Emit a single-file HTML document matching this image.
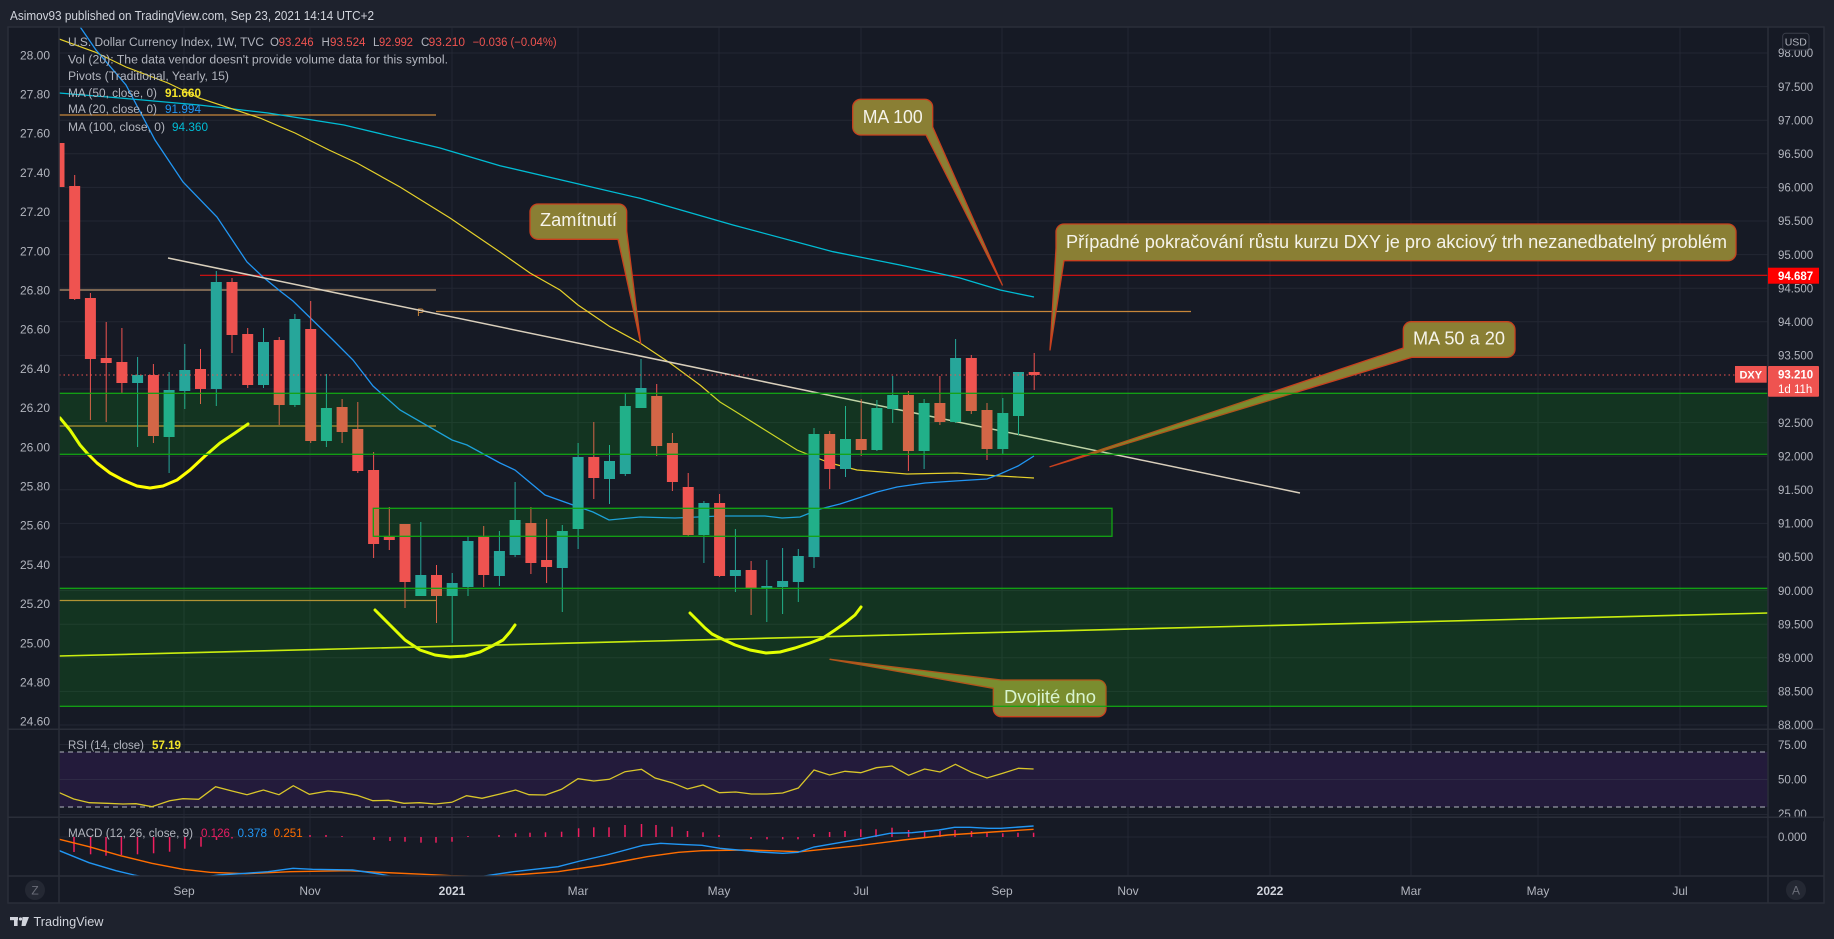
<!DOCTYPE html>
<html><head><meta charset="utf-8"><style>
html,body{margin:0;padding:0;background:#1e222d;overflow:hidden;width:1834px;height:939px}
svg{display:block}
text{font-family:"Liberation Sans","DejaVu Sans",sans-serif}
</style></head><body>
<svg xmlns="http://www.w3.org/2000/svg" width="1834" height="939" viewBox="0 0 1834 939">
<defs>
<clipPath id="main"><rect x="59" y="27" width="1709" height="702"/></clipPath>
<clipPath id="rsi"><rect x="59" y="729" width="1709" height="88"/></clipPath>
<clipPath id="macd"><rect x="59" y="817" width="1709" height="59"/></clipPath>
</defs>
<rect x="0" y="0" width="1834" height="939" fill="#1e222d"/>
<text x="10" y="20" font-size="12.5" fill="#d1d4dc" textLength="364" lengthAdjust="spacingAndGlyphs">Asimov93 published on TradingView.com, Sep 23, 2021 14:14 UTC+2</text>
<rect x="8" y="27" width="1816" height="876" fill="#161a25"/>

<!-- grid -->
<g stroke="#232733" stroke-width="1">
<line x1="59" y1="53" x2="1768" y2="53"/><line x1="59" y1="86.6" x2="1768" y2="86.6"/><line x1="59" y1="120.2" x2="1768" y2="120.2"/><line x1="59" y1="153.8" x2="1768" y2="153.8"/><line x1="59" y1="187.4" x2="1768" y2="187.4"/><line x1="59" y1="221" x2="1768" y2="221"/><line x1="59" y1="254.6" x2="1768" y2="254.6"/><line x1="59" y1="288.2" x2="1768" y2="288.2"/><line x1="59" y1="321.8" x2="1768" y2="321.8"/><line x1="59" y1="355.4" x2="1768" y2="355.4"/><line x1="59" y1="389" x2="1768" y2="389"/><line x1="59" y1="422.6" x2="1768" y2="422.6"/><line x1="59" y1="456.2" x2="1768" y2="456.2"/><line x1="59" y1="489.8" x2="1768" y2="489.8"/><line x1="59" y1="523.4" x2="1768" y2="523.4"/><line x1="59" y1="557" x2="1768" y2="557"/><line x1="59" y1="590.6" x2="1768" y2="590.6"/><line x1="59" y1="624.2" x2="1768" y2="624.2"/><line x1="59" y1="657.8" x2="1768" y2="657.8"/><line x1="59" y1="691.4" x2="1768" y2="691.4"/><line x1="59" y1="725" x2="1768" y2="725"/>
<line x1="59" y1="744.5" x2="1768" y2="744.5"/><line x1="59" y1="779.5" x2="1768" y2="779.5"/><line x1="59" y1="814.5" x2="1768" y2="814.5"/><line x1="59" y1="837" x2="1768" y2="837"/>
<line x1="184" y1="27" x2="184" y2="876"/><line x1="310" y1="27" x2="310" y2="876"/><line x1="452" y1="27" x2="452" y2="876"/><line x1="578" y1="27" x2="578" y2="876"/><line x1="719" y1="27" x2="719" y2="876"/><line x1="861" y1="27" x2="861" y2="876"/><line x1="1002" y1="27" x2="1002" y2="876"/><line x1="1128" y1="27" x2="1128" y2="876"/><line x1="1270" y1="27" x2="1270" y2="876"/><line x1="1411" y1="27" x2="1411" y2="876"/><line x1="1538" y1="27" x2="1538" y2="876"/><line x1="1680" y1="27" x2="1680" y2="876"/>
</g>

<g clip-path="url(#main)">
<!-- pivot lines -->
<g stroke-width="1.2" fill="none">
<line x1="59" y1="115" x2="436" y2="115" stroke="#c8863a"/>
<line x1="59" y1="290" x2="436" y2="290" stroke="#b8946e"/>
<line x1="59" y1="426" x2="436" y2="426" stroke="#c8863a"/>
<line x1="59" y1="600.5" x2="436" y2="600.5" stroke="#c8863a"/>
<line x1="436" y1="311.5" x2="1191" y2="311.5" stroke="#c8863a"/>
<line x1="200" y1="275.3" x2="1768" y2="275.3" stroke="#e01010"/>
</g>
<text x="417" y="316" font-size="11" fill="#c8863a">P</text>

<!-- MAs -->
<polyline fill="none" stroke="#00bcd4" stroke-width="1.3" points="59,93 120,98 199,105 268,113 344,125 440,148 500,165.7 570,182 640,198.3 733,225 833,251.7 900,265 960,278 1000,290 1034,297"/>
<polyline fill="none" stroke="#e6d12a" stroke-width="1.2" points="59,39 95,52 126,67 168,83 199,98 260,118 295,133 329,150 357,163 400,187 450,218 500,252 530,273 560,290 578,305 610,326.7 640,343 670,363 700,385 720,402 733,410 765,430 797,450 830,463 857,470 907,474 957,473 1000,476 1034,478"/>
<polyline fill="none" stroke="#2196f3" stroke-width="1.3" points="72,15 96,50 126,85 155,140 183,182 217,217 247,262 263,277 280,291 293,301 333,340 353,360 373,386 400,410 452,440 467,445 500,463 515,470 545,495 573,505 593,512 609,520 640,517 675,518 720,516 765,516 782,518 800,517 820,509 840,504 877,492 897,487 925,483 955,481 987,479 1000,474 1018,466 1034,456"/>
<!-- trendline -->
<line x1="168" y1="258" x2="1300" y2="493" stroke="#d9cfbc" stroke-width="1.5"/>

<!-- candles red -->
<g fill="#ef5350" stroke="#ef5350">
<g stroke-width="1">
<line x1="59" y1="140" x2="59" y2="187"/><line x1="74.7" y1="175" x2="74.7" y2="300"/><line x1="90.4" y1="293" x2="90.4" y2="420"/><line x1="106.2" y1="322" x2="106.2" y2="422"/><line x1="121.9" y1="328" x2="121.9" y2="393"/><line x1="153.4" y1="364" x2="153.4" y2="443"/><line x1="200.5" y1="349" x2="200.5" y2="404"/><line x1="232" y1="278" x2="232" y2="353"/><line x1="247.7" y1="328" x2="247.7" y2="388"/><line x1="279.2" y1="337" x2="279.2" y2="425"/><line x1="310.7" y1="301" x2="310.7" y2="443"/><line x1="342.1" y1="399" x2="342.1" y2="443"/><line x1="357.8" y1="402" x2="357.8" y2="473"/><line x1="373.6" y1="452" x2="373.6" y2="558"/><line x1="389.3" y1="507" x2="389.3" y2="550"/><line x1="405" y1="524" x2="405" y2="608"/><line x1="436.5" y1="565" x2="436.5" y2="623"/><line x1="483.7" y1="526" x2="483.7" y2="587"/><line x1="530.9" y1="507" x2="530.9" y2="574"/><line x1="546.6" y1="519" x2="546.6" y2="583"/><line x1="593.8" y1="422" x2="593.8" y2="499"/><line x1="656.7" y1="384" x2="656.7" y2="456"/><line x1="672.4" y1="433" x2="672.4" y2="491"/><line x1="688.2" y1="473" x2="688.2" y2="537"/><line x1="719.6" y1="494" x2="719.6" y2="577"/><line x1="751.1" y1="561" x2="751.1" y2="615"/><line x1="829.7" y1="431" x2="829.7" y2="489"/><line x1="861.2" y1="399" x2="861.2" y2="456"/><line x1="908.4" y1="391" x2="908.4" y2="471"/><line x1="939.9" y1="376" x2="939.9" y2="425"/><line x1="971.3" y1="355" x2="971.3" y2="414"/><line x1="987" y1="403" x2="987" y2="460"/><line x1="1034.2" y1="353" x2="1034.2" y2="390"/>
</g>
<g stroke="none">
<rect x="53.5" y="143" width="11" height="44"/><rect x="69.2" y="186" width="11" height="113"/><rect x="84.9" y="298" width="11" height="61"/><rect x="100.7" y="358" width="11" height="5"/><rect x="116.4" y="362" width="11" height="21"/><rect x="147.9" y="375" width="11" height="61"/><rect x="195" y="369" width="11" height="20"/><rect x="226.5" y="282" width="11" height="53"/><rect x="242.2" y="334" width="11" height="51"/><rect x="273.7" y="340" width="11" height="65"/><rect x="305.2" y="329" width="11" height="112"/><rect x="336.6" y="407" width="11" height="25"/><rect x="352.3" y="429" width="11" height="42"/><rect x="368.1" y="470" width="11" height="74"/><rect x="383.8" y="536" width="11" height="4"/><rect x="399.5" y="524" width="11" height="58"/><rect x="431" y="575" width="11" height="21"/><rect x="478.2" y="537" width="11" height="38"/><rect x="525.4" y="523" width="11" height="40"/><rect x="541.1" y="560" width="11" height="7"/><rect x="588.3" y="457" width="11" height="21"/><rect x="651.2" y="396" width="11" height="50"/><rect x="666.9" y="443" width="11" height="39"/><rect x="682.7" y="487" width="11" height="48"/><rect x="714.1" y="503" width="11" height="73"/><rect x="745.6" y="570" width="11" height="18"/><rect x="824.2" y="434" width="11" height="35"/><rect x="855.7" y="439" width="11" height="11"/><rect x="902.9" y="395" width="11" height="56"/><rect x="934.4" y="403" width="11" height="19"/><rect x="965.8" y="358" width="11" height="53"/><rect x="981.5" y="410" width="11" height="39"/><rect x="1028.7" y="372" width="11" height="3"/>
</g></g>
<!-- candles green -->
<g fill="#26a69a" stroke="#26a69a">
<g stroke-width="1">
<line x1="137.6" y1="357" x2="137.6" y2="447"/><line x1="169.1" y1="372" x2="169.1" y2="473"/><line x1="184.8" y1="344" x2="184.8" y2="409"/><line x1="216.3" y1="271" x2="216.3" y2="406"/><line x1="263.5" y1="328" x2="263.5" y2="388"/><line x1="294.9" y1="314" x2="294.9" y2="407"/><line x1="326.4" y1="374" x2="326.4" y2="447"/><line x1="420.8" y1="522" x2="420.8" y2="596"/><line x1="452.2" y1="573" x2="452.2" y2="643"/><line x1="468" y1="536" x2="468" y2="596"/><line x1="499.4" y1="531" x2="499.4" y2="586"/><line x1="515.1" y1="482" x2="515.1" y2="557"/><line x1="562.3" y1="525" x2="562.3" y2="612"/><line x1="578.1" y1="443" x2="578.1" y2="549"/><line x1="609.5" y1="445" x2="609.5" y2="504"/><line x1="625.3" y1="394" x2="625.3" y2="476"/><line x1="641" y1="359" x2="641" y2="408"/><line x1="703.9" y1="501" x2="703.9" y2="563"/><line x1="735.4" y1="529" x2="735.4" y2="592"/><line x1="766.8" y1="560" x2="766.8" y2="622"/><line x1="782.6" y1="548" x2="782.6" y2="614"/><line x1="798.3" y1="549" x2="798.3" y2="602"/><line x1="814" y1="428" x2="814" y2="568"/><line x1="845.5" y1="406" x2="845.5" y2="477"/><line x1="876.9" y1="400" x2="876.9" y2="451"/><line x1="892.7" y1="376" x2="892.7" y2="423"/><line x1="924.1" y1="399" x2="924.1" y2="469"/><line x1="955.6" y1="339" x2="955.6" y2="423"/><line x1="1002.8" y1="398" x2="1002.8" y2="454"/><line x1="1018.5" y1="372" x2="1018.5" y2="435"/>
</g>
<g stroke="none">
<rect x="132.1" y="375" width="11" height="8"/><rect x="163.6" y="390" width="11" height="47"/><rect x="179.3" y="370" width="11" height="21"/><rect x="210.8" y="282" width="11" height="107"/><rect x="258" y="342" width="11" height="43"/><rect x="289.4" y="319" width="11" height="86"/><rect x="320.9" y="408" width="11" height="33"/><rect x="415.3" y="575" width="11" height="21"/><rect x="446.7" y="583" width="11" height="13"/><rect x="462.5" y="541" width="11" height="46"/><rect x="493.9" y="551" width="11" height="25"/><rect x="509.6" y="520" width="11" height="35"/><rect x="556.8" y="531" width="11" height="37"/><rect x="572.6" y="457" width="11" height="72"/><rect x="604" y="461" width="11" height="18"/><rect x="619.8" y="406" width="11" height="68"/><rect x="635.5" y="388" width="11" height="20"/><rect x="698.4" y="503" width="11" height="32"/><rect x="729.9" y="570" width="11" height="6"/><rect x="761.3" y="586" width="11" height="3"/><rect x="777.1" y="581" width="11" height="6"/><rect x="792.8" y="556" width="11" height="26"/><rect x="808.5" y="434" width="11" height="123"/><rect x="840" y="439" width="11" height="30"/><rect x="871.4" y="408" width="11" height="42"/><rect x="887.2" y="395" width="11" height="14"/><rect x="918.6" y="403" width="11" height="48"/><rect x="950.1" y="358" width="11" height="64"/><rect x="997.3" y="413" width="11" height="36"/><rect x="1013" y="372" width="11" height="44"/>
</g></g>

<!-- price line -->
<line x1="59" y1="375" x2="1735" y2="375" stroke="#ef5350" stroke-width="1" stroke-dasharray="1.5,3"/>

<!-- hand drawn yellow -->
<g fill="none" stroke="#ffff00" stroke-width="3" stroke-linecap="round" stroke-linejoin="round">
<polyline points="60,418 70,430 80,445 87,453 97,463 110,473 123,480 137,486 150,488 163,486 177,480 190,470 205,456 220,443 235,433 248,424"/>
<polyline points="375,610 390,625 405,640 420,650 435,655 450,657 465,656 480,652 492,646 503,640 510,632 515,625"/>
<polyline points="690,613 697,620 705,628 712,634 720,638 735,645 750,650 766,653 780,652 795,648 810,643 823,638 835,630 845,623 855,615 861,607"/>
</g>
<line x1="59" y1="656" x2="1768" y2="613" stroke="#e4ec10" stroke-width="1.6"/>

<!-- callouts -->
<g fill="#8a7f34" stroke="#c8401e" stroke-width="1.3" stroke-linejoin="round">
<path d="M538,204 H618.7 A8,8 0 0 1 626.7,212 V231 L640.7,343.3 L618,239.3 H538 A8,8 0 0 1 530,231.3 V212 A8,8 0 0 1 538,204 Z"/>
<path d="M860.7,99.3 H924.7 A8,8 0 0 1 932.7,107.3 V127 L1002.3,285 L926,135 H860.7 A8,8 0 0 1 852.7,127 V107.3 A8,8 0 0 1 860.7,99.3 Z"/>
<path d="M1064,224 H1728 A8,8 0 0 1 1736,232 V252.7 A8,8 0 0 1 1728,260.7 H1064 L1050,350 L1056,248 V232 A8,8 0 0 1 1064,224 Z"/>
<path d="M1411.3,321.7 H1507 A8,8 0 0 1 1515,329.7 V349.3 A8,8 0 0 1 1507,357.3 H1412 L1050,466.7 L1403.3,348 V329.7 A8,8 0 0 1 1411.3,321.7 Z"/>
<path d="M1001.3,680 H1098 A8,8 0 0 1 1106,688 V708.7 A8,8 0 0 1 1098,716.7 H1001.3 A8,8 0 0 1 993.3,708.7 V688.3 L830,659.3 L1001.3,680 Z"/>
</g>
<g fill="#f5f3ea" font-size="18">
<text x="540" y="226" textLength="77" lengthAdjust="spacingAndGlyphs">Zamítnutí</text>
<text x="862.7" y="123" textLength="60" lengthAdjust="spacingAndGlyphs">MA 100</text>
<text x="1066" y="248" textLength="661" lengthAdjust="spacingAndGlyphs">Případné pokračování růstu kurzu DXY je pro akciový trh nezanedbatelný problém</text>
<text x="1413" y="344.5" textLength="92" lengthAdjust="spacingAndGlyphs">MA 50 a 20</text>
<text x="1004" y="703" textLength="92" lengthAdjust="spacingAndGlyphs">Dvojité dno</text>
</g>

<!-- zones -->
<g fill="rgba(0,255,10,0.115)" stroke="#13a313" stroke-width="1.3">
<rect x="58" y="393.3" width="1711" height="61"/>
<rect x="373.3" y="508.3" width="738.7" height="28"/>
<rect x="58" y="588.3" width="1711" height="118"/>
</g>
</g>

<!-- legend -->
<g font-size="11.5" fill="#b2b5be">
<text x="68" y="46" textLength="196" lengthAdjust="spacingAndGlyphs">U.S. Dollar Currency Index, 1W, TVC</text>
<text x="270" y="46">O</text><text x="278.6" y="46" fill="#ef5350" textLength="35" lengthAdjust="spacingAndGlyphs">93.246</text>
<text x="321.5" y="46">H</text><text x="330" y="46" fill="#ef5350" textLength="35.5" lengthAdjust="spacingAndGlyphs">93.524</text>
<text x="373" y="46">L</text><text x="379" y="46" fill="#ef5350" textLength="34" lengthAdjust="spacingAndGlyphs">92.992</text>
<text x="421" y="46">C</text><text x="428.6" y="46" fill="#ef5350" textLength="36.4" lengthAdjust="spacingAndGlyphs">93.210</text>
<text x="472.6" y="46" fill="#ef5350" textLength="84" lengthAdjust="spacingAndGlyphs">−0.036 (−0.04%)</text>
<text x="68" y="63.5" textLength="380" lengthAdjust="spacingAndGlyphs">Vol (20): The data vendor doesn't provide volume data for this symbol.</text>
<text x="68" y="80" textLength="161" lengthAdjust="spacingAndGlyphs">Pivots (Traditional, Yearly, 15)</text>
<text x="68" y="96.8" textLength="89" lengthAdjust="spacingAndGlyphs">MA (50, close, 0)</text>
<text x="165" y="96.8" fill="#f5e52a" font-weight="bold" textLength="36" lengthAdjust="spacingAndGlyphs">91.660</text>
<text x="68" y="113" textLength="89" lengthAdjust="spacingAndGlyphs">MA (20, close, 0)</text>
<text x="165" y="113" fill="#2196f3" textLength="36" lengthAdjust="spacingAndGlyphs">91.994</text>
<text x="68" y="130.8" textLength="97" lengthAdjust="spacingAndGlyphs">MA (100, close, 0)</text>
<text x="172" y="130.8" fill="#00bcd4" textLength="36" lengthAdjust="spacingAndGlyphs">94.360</text>
</g>

<!-- RSI pane -->
<g clip-path="url(#rsi)">
<rect x="59" y="752" width="1709" height="55" fill="#231b3b"/>
<line x1="59" y1="779.5" x2="1768" y2="779.5" stroke="#2e2a45" stroke-width="1"/>
<line x1="59" y1="752" x2="1768" y2="752" stroke="#b2b5be" stroke-width="1" stroke-dasharray="5,4"/>
<line x1="59" y1="807" x2="1768" y2="807" stroke="#b2b5be" stroke-width="1" stroke-dasharray="5,4"/>
<polyline fill="none" stroke="#d9c62a" stroke-width="1.3" points="59.4,792.7 73.7,799 89.3,802.7 107,803.3 122.8,804 136,803.7 151.8,806.7 169.6,800.7 183,798.7 198.7,799.3 215.6,786.7 232,791 247,794.7 263.4,790 279,794.7 293.3,785.7 309.4,794.3 328,791 341.5,792.3 357,795.3 372.8,800.7 388.4,800.3 404,803.3 419.6,802.7 435.3,804 451.8,802.3 466.5,795.7 482,798.3 500,794 515.6,790 529,794.7 545.5,795 561.6,789.3 578,778.7 593.8,781 609.4,779.3 625,771.7 641.5,769.3 655,778 672,782.7 687.5,789 703,785 719.3,792.7 735.8,792 751.4,794 767,794 782.7,793 798.3,788 814,770 829.6,775 845,771.3 860.8,772.7 876.4,767.7 892,766 908.6,775.3 924.6,769 940,772 955.4,764.3 971.5,772.3 987,778 1002.8,773.3 1018.4,768.3 1033.6,769"/>
</g>
<text x="68" y="749" font-size="11.5" fill="#b2b5be" textLength="76" lengthAdjust="spacingAndGlyphs">RSI (14, close)</text>
<text x="152" y="749" font-size="11.5" fill="#f2e52a" font-weight="bold" textLength="29" lengthAdjust="spacingAndGlyphs">57.19</text>

<!-- MACD pane -->
<g clip-path="url(#macd)">
<g stroke="#ef1f5f" stroke-width="1.5">
<line x1="74" y1="837" x2="74" y2="852"/><line x1="90.6" y1="837" x2="90.6" y2="854.3"/><line x1="106" y1="837" x2="106" y2="855.7"/><line x1="121.4" y1="837" x2="121.4" y2="855"/><line x1="137.5" y1="837" x2="137.5" y2="854.3"/><line x1="153.6" y1="837" x2="153.6" y2="853.3"/><line x1="169.6" y1="837" x2="169.6" y2="851.7"/><line x1="184.8" y1="837" x2="184.8" y2="848.7"/><line x1="201" y1="837" x2="201" y2="846.7"/><line x1="216.5" y1="837" x2="216.5" y2="840"/><line x1="232" y1="837" x2="232" y2="838.5"/><line x1="310" y1="837" x2="310" y2="835"/><line x1="326" y1="837" x2="326" y2="835"/><line x1="342" y1="837" x2="342" y2="836"/><line x1="374" y1="837" x2="374" y2="840"/><line x1="390" y1="837" x2="390" y2="841"/><line x1="405" y1="837" x2="405" y2="841.7"/><line x1="421" y1="837" x2="421" y2="842.7"/><line x1="436" y1="837" x2="436" y2="842.7"/><line x1="452" y1="837" x2="452" y2="841.7"/><line x1="468" y1="837" x2="468" y2="836"/><line x1="499" y1="837" x2="499" y2="835"/><line x1="515.6" y1="837" x2="515.6" y2="833.3"/><line x1="530" y1="837" x2="530" y2="832.7"/><line x1="545.5" y1="837" x2="545.5" y2="832.3"/><line x1="561.6" y1="837" x2="561.6" y2="831.7"/><line x1="578.6" y1="837" x2="578.6" y2="828.3"/><line x1="593.8" y1="837" x2="593.8" y2="827.3"/><line x1="609" y1="837" x2="609" y2="827.3"/><line x1="625" y1="837" x2="625" y2="825"/><line x1="641.5" y1="837" x2="641.5" y2="824"/><line x1="656" y1="837" x2="656" y2="825"/><line x1="672" y1="837" x2="672" y2="826.7"/><line x1="687.5" y1="837" x2="687.5" y2="831"/><line x1="703" y1="837" x2="703" y2="832.3"/><line x1="719" y1="837" x2="719" y2="835"/><line x1="751" y1="837" x2="751" y2="839"/><line x1="767" y1="837" x2="767" y2="839.3"/><line x1="782.7" y1="837" x2="782.7" y2="839.3"/><line x1="798" y1="837" x2="798" y2="839.3"/><line x1="814" y1="837" x2="814" y2="834"/><line x1="829.6" y1="837" x2="829.6" y2="832"/><line x1="845" y1="837" x2="845" y2="831"/><line x1="860.8" y1="837" x2="860.8" y2="829.3"/><line x1="876" y1="837" x2="876" y2="829.3"/><line x1="892" y1="837" x2="892" y2="827.7"/><line x1="908.6" y1="837" x2="908.6" y2="830"/><line x1="924.6" y1="837" x2="924.6" y2="831"/><line x1="940" y1="837" x2="940" y2="831"/><line x1="955" y1="837" x2="955" y2="830"/><line x1="971.5" y1="837" x2="971.5" y2="831"/><line x1="987" y1="837" x2="987" y2="832.7"/><line x1="1002.8" y1="837" x2="1002.8" y2="833.3"/><line x1="1018" y1="837" x2="1018" y2="832.7"/><line x1="1033.6" y1="837" x2="1033.6" y2="832.7"/>
</g>
<polyline fill="none" stroke="#ff6d00" stroke-width="1.4" points="59.4,839.3 89,846.7 120.5,855.7 151.8,863.3 183,869.3 209.8,872.3 245.5,873.7 290,871.7 348,870.7 379.5,872.3 424,874.3 451,875.7 480,876.5 513.4,875 558,871.7 602.7,865 647,856.7 678.6,852.3 702,850.7 747,850 800.5,851.7 858.6,845.7 903,840 948,835 992.5,832 1033.6,829.3"/>
<polyline fill="none" stroke="#2196f3" stroke-width="1.4" points="59.4,850.7 89,862.7 116,870.7 134,875 160,880 190,879 218.8,875 245.5,873.3 268,871.7 293,868.3 312.5,869.3 352.7,870 379.5,874 395,877 420,880 460,880 486.6,875.7 513.4,871.7 558,866.7 580,861 607,855 643,845.3 660.7,843.3 678.6,844.3 702,845.3 720,848.3 760,852 782.7,853.3 798,852.3 814,847 858.6,839.3 889.8,833.3 912,832.7 939,830 954.5,827.3 970,827.3 988,828.3 1001,828.3 1033.6,826"/>
</g>
<g font-size="11.5">
<text x="68" y="837" fill="#b2b5be" textLength="125" lengthAdjust="spacingAndGlyphs">MACD (12, 26, close, 9)</text>
<text x="201" y="837" fill="#e91e63" textLength="29" lengthAdjust="spacingAndGlyphs">0.126</text>
<text x="237.5" y="837" fill="#2196f3" textLength="29.5" lengthAdjust="spacingAndGlyphs">0.378</text>
<text x="273.7" y="837" fill="#ff6d00" textLength="29" lengthAdjust="spacingAndGlyphs">0.251</text>
</g>

<!-- separators / frame -->
<g stroke="#2a2e39" stroke-width="1.5" fill="none">
<line x1="8" y1="729.3" x2="1824" y2="729.3"/>
<line x1="8" y1="817.3" x2="1824" y2="817.3"/>
<line x1="8" y1="876" x2="1824" y2="876"/>
<line x1="59" y1="27" x2="59" y2="903"/>
<line x1="1768" y1="27" x2="1768" y2="903"/>
<rect x="8" y="27" width="1816" height="876"/>
</g>

<!-- left axis -->
<g font-size="12" fill="#b2b5be" text-anchor="end">
<text x="50" y="59.3">28.00</text><text x="50" y="98.5">27.80</text><text x="50" y="137.7">27.60</text><text x="50" y="176.9">27.40</text><text x="50" y="216.1">27.20</text><text x="50" y="255.3">27.00</text><text x="50" y="294.5">26.80</text><text x="50" y="333.7">26.60</text><text x="50" y="372.9">26.40</text><text x="50" y="412.1">26.20</text><text x="50" y="451.3">26.00</text><text x="50" y="490.5">25.80</text><text x="50" y="529.7">25.60</text><text x="50" y="568.9">25.40</text><text x="50" y="608.1">25.20</text><text x="50" y="647.3">25.00</text><text x="50" y="686.5">24.80</text><text x="50" y="725.7">24.60</text>
</g>

<!-- right axis -->
<g font-size="11.5" fill="#b2b5be">
<text x="1778" y="57.2">98.000</text><text x="1778" y="90.8">97.500</text><text x="1778" y="124.4">97.000</text><text x="1778" y="158">96.500</text><text x="1778" y="191.6">96.000</text><text x="1778" y="225.2">95.500</text><text x="1778" y="258.8">95.000</text><text x="1778" y="292.4">94.500</text><text x="1778" y="326">94.000</text><text x="1778" y="359.6">93.500</text><text x="1778" y="426.8">92.500</text><text x="1778" y="460.4">92.000</text><text x="1778" y="494">91.500</text><text x="1778" y="527.6">91.000</text><text x="1778" y="561.2">90.500</text><text x="1778" y="594.8">90.000</text><text x="1778" y="628.4">89.500</text><text x="1778" y="662">89.000</text><text x="1778" y="695.6">88.500</text><text x="1778" y="729">88.000</text>
<text x="1778" y="749">75.00</text><text x="1778" y="783.5">50.00</text><text x="1778" y="818">25.00</text>
<text x="1778" y="841">0.000</text>
</g>
<rect x="1768.8" y="817.3" width="55" height="4" fill="#161a25"/>
<line x1="1768" y1="817.3" x2="1824" y2="817.3" stroke="#2a2e39" stroke-width="1.5"/>
<rect x="1782.7" y="33.3" width="26.3" height="16.7" rx="3" fill="#161a25" stroke="#3a3e4a" stroke-width="1"/>
<text x="1795.8" y="45.5" font-size="10.5" fill="#b2b5be" text-anchor="middle">USD</text>
<rect x="1768" y="267.7" width="51" height="16" fill="#ff0000"/>
<text x="1778" y="280" font-size="11.5" fill="#ffffff" font-weight="bold">94.687</text>
<rect x="1735" y="366" width="31.7" height="16.7" fill="#ef5350"/>
<text x="1750.8" y="378.5" font-size="11" fill="#ffffff" text-anchor="middle" font-weight="bold">DXY</text>
<rect x="1768" y="366" width="51" height="30.7" rx="1" fill="#ef5350"/>
<text x="1778" y="378.5" font-size="11.5" fill="#ffffff" font-weight="bold">93.210</text>
<text x="1778" y="393" font-size="11.5" fill="#ffffff">1d 11h</text>

<!-- time axis -->
<g font-size="12" fill="#b2b5be" text-anchor="middle">
<text x="184" y="895">Sep</text><text x="310" y="895">Nov</text><text x="452" y="895" fill="#d1d4dc" font-weight="bold">2021</text><text x="578" y="895">Mar</text><text x="719" y="895">May</text><text x="861" y="895">Jul</text><text x="1002" y="895">Sep</text><text x="1128" y="895">Nov</text><text x="1270" y="895" fill="#d1d4dc" font-weight="bold">2022</text><text x="1411" y="895">Mar</text><text x="1538" y="895">May</text><text x="1680" y="895">Jul</text>
</g>
<circle cx="35" cy="890" r="10" fill="#242833"/>
<text x="35" y="894.5" font-size="12" fill="#6a6d78" text-anchor="middle">Z</text>
<circle cx="1796" cy="890" r="10" fill="#242833"/>
<text x="1796" y="894.5" font-size="12" fill="#6a6d78" text-anchor="middle">A</text>

<!-- bottom logo -->
<g fill="#d1d4dc">
<rect x="10" y="917" width="8" height="3.2"/>
<rect x="14" y="917" width="3.6" height="9"/>
<circle cx="20.5" cy="919" r="1.6"/>
<polygon points="22.5,917 29,917 25.5,926 21.5,926"/>
</g>
<text x="33.5" y="926" font-size="13" fill="#d1d4dc" textLength="70" lengthAdjust="spacingAndGlyphs">TradingView</text>
</svg>
</body></html>
